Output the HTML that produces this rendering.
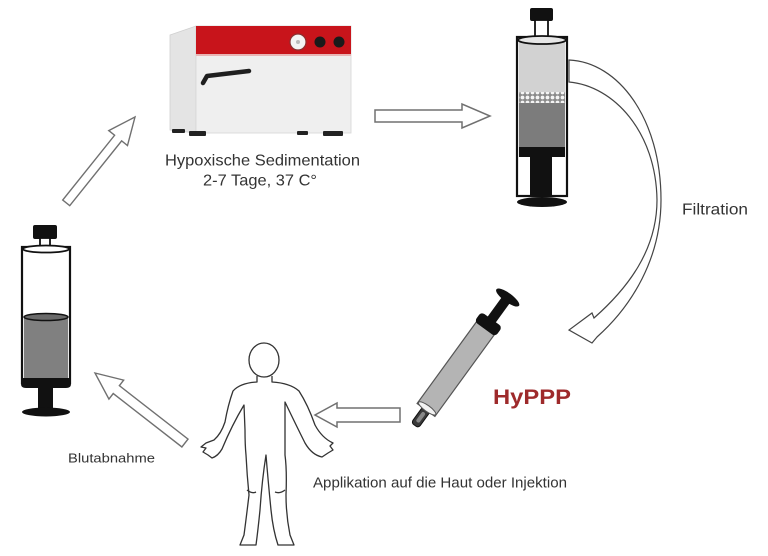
<!DOCTYPE html>
<html>
<head>
<meta charset="utf-8">
<style>
html,body{margin:0;padding:0;background:#fff;}
svg{display:block;}
text{font-family:"Liberation Sans",Arial,sans-serif;}
</style>
</head>
<body>
<svg width="768" height="556" viewBox="0 0 768 556" xmlns="http://www.w3.org/2000/svg">
<defs>
<pattern id="beads" x="0" y="0" width="5" height="5" patternUnits="userSpaceOnUse">
<rect width="5" height="5" fill="#8a8a8a"/>
<circle cx="2.5" cy="2.5" r="1.9" fill="#f4f4f4"/>
</pattern>
</defs>
<rect width="768" height="556" fill="#fff"/>

<!-- Incubator -->
<polygon points="170,35 196,26 196,133 170,130" fill="#e4e4e4" stroke="#cfcfcf" stroke-width="0.8"/>
<rect x="196" y="26" width="155" height="107" fill="#efefef" stroke="#d6d6d6" stroke-width="0.8"/>
<rect x="196" y="26" width="155" height="29" fill="#c8141b"/>
<rect x="196" y="54" width="155" height="2" fill="#e9b4b4"/>
<circle cx="298" cy="42" r="8" fill="#f4f4f4" stroke="#8a3030" stroke-width="1.2"/>
<circle cx="298" cy="42" r="2" fill="#bbb"/>
<circle cx="320" cy="42" r="5.5" fill="#1a1a1a"/>
<circle cx="339" cy="42" r="5.5" fill="#1a1a1a"/>
<path d="M203,83 L207,76 L249,71" fill="none" stroke="#1f1f1f" stroke-width="4.5" stroke-linecap="round" stroke-linejoin="round"/>
<rect x="172" y="129" width="13" height="4" rx="1" fill="#222"/>
<rect x="189" y="131" width="17" height="5" rx="1" fill="#222"/>
<rect x="297" y="131" width="11" height="4" rx="1" fill="#222"/>
<rect x="323" y="131" width="20" height="5" rx="1" fill="#222"/>

<text x="165" y="165.5" font-size="16" fill="#333" textLength="195" lengthAdjust="spacingAndGlyphs">Hypoxische Sedimentation</text>
<text x="203" y="185.5" font-size="16" fill="#333" textLength="114" lengthAdjust="spacingAndGlyphs">2-7 Tage, 37  C°</text>

<!-- Arrow incubator -> filter syringe -->
<polygon points="375,110 462,110 462,104 490,116 462,128 462,122 375,122" fill="#fff" stroke="#707070" stroke-width="1.5"/>

<!-- Top-right syringe -->
<rect x="530" y="8" width="23" height="13" rx="2" fill="#111"/>
<rect x="535" y="20" width="13" height="18" fill="#fff" stroke="#111" stroke-width="1.8"/>
<rect x="517" y="37" width="50" height="159" fill="#fff" stroke="#111" stroke-width="2.2"/>
<rect x="519" y="41" width="46" height="52" fill="#d2d2d2"/>
<ellipse cx="542" cy="40" rx="24" ry="4" fill="#e6e6e6" stroke="#111" stroke-width="1.8"/>
<rect x="519" y="92" width="46" height="11" fill="url(#beads)"/>
<rect x="519" y="103" width="46" height="45" fill="#7c7c7c"/>
<rect x="519" y="147" width="46" height="10" fill="#111"/>
<rect x="530" y="156" width="22" height="41" fill="#111"/>
<ellipse cx="542" cy="202" rx="25" ry="5" fill="#111"/>

<!-- Filtration curved arrow -->
<path d="M569,60 C618,62 661,118 661,200 C661,258 632,306 597,337 L592,343 L569,330 L592,313 L594,318 C628,288 657,250 657,200 C656,132 614,86 569,82 Z" fill="#fff" stroke="#444" stroke-width="1.2"/>
<text x="682" y="214.5" font-size="16" fill="#333" textLength="66" lengthAdjust="spacingAndGlyphs">Filtration</text>

<!-- Diagonal syringe -->
<g transform="translate(426,410) rotate(-54)">
<rect x="-19" y="-4.5" width="20" height="9" rx="3" fill="#3a3a3a" stroke="#111" stroke-width="1"/>
<rect x="-15" y="-2" width="12" height="4" rx="2" fill="#888"/>
<rect x="0" y="-11" width="104" height="22" fill="#b4b4b4" stroke="#555" stroke-width="1.2"/>
<ellipse cx="2" cy="0" rx="3" ry="10.5" fill="#f2f2f2" stroke="#555" stroke-width="1"/>
<rect x="100" y="-13" width="12" height="26" rx="4" fill="#111"/>
<rect x="111" y="-5" width="26" height="10" fill="#111"/>
<ellipse cx="139" cy="0" rx="4.5" ry="14" fill="#111"/>
</g>

<text x="493" y="404" font-size="21" font-weight="bold" fill="#9e2a2b" textLength="78" lengthAdjust="spacingAndGlyphs">HyPPP</text>

<!-- Arrow syringe -> human -->
<polygon points="400,408 337,408 337,403 315,415 337,427 337,422 400,422" fill="#fff" stroke="#707070" stroke-width="1.5"/>

<!-- Human figure -->
<g fill="#fff" stroke="#333" stroke-width="1.3" stroke-linejoin="round">
<path d="M257,376 L257,382 Q240,383 233,391 Q228,405 225,422 Q221,434 214,440 L206,443 L201,447 L206,448 L203,452 L208,455 L212,458 Q218,456 222,449 Q232,425 244,405 L245,430 Q245,445 246,455 Q247,475 249,495 Q246,520 244,535 L240,545 L256,545 Q258,530 260,510 Q262,480 266,455 Q268,480 271,510 Q273,530 278,545 L294,545 L290,535 Q286,515 286,495 Q287,470 285,455 L285,425 L285,402 Q296,425 305,443 Q312,455 322,457 L328,453 L333,450 L330,446 L333,443 Q322,438 315,425 Q308,405 299,391 Q290,383 272,382 L272,376"/>
<ellipse cx="264" cy="360" rx="15" ry="17"/>
<path d="M247,490 Q252,494 256,492 M275,492 Q280,494 285,490" fill="none"/>
</g>

<text x="313" y="487.5" font-size="15" fill="#333" textLength="254" lengthAdjust="spacingAndGlyphs">Applikation auf die Haut oder Injektion</text>

<!-- Left syringe -->
<rect x="33" y="225" width="24" height="14" rx="2" fill="#111"/>
<rect x="40" y="238" width="10" height="10" fill="#fff" stroke="#111" stroke-width="1.8"/>
<rect x="22" y="247" width="48" height="136" fill="#fff" stroke="#111" stroke-width="2.2"/>
<ellipse cx="46" cy="249" rx="23" ry="3.5" fill="#fff" stroke="#111" stroke-width="1.8"/>
<rect x="24" y="316" width="44" height="64" fill="#808080"/>
<ellipse cx="46" cy="317" rx="22" ry="3.5" fill="#6a6a6a" stroke="#111" stroke-width="1.5"/>
<path d="M21,378 L71,378 L71,384 Q71,388 66,388 L26,388 Q21,388 21,384 Z" fill="#111"/>
<rect x="38" y="387" width="15" height="23" fill="#111"/>
<ellipse cx="46" cy="412" rx="24" ry="4.5" fill="#111"/>

<!-- Arrow left syringe -> incubator -->
<g transform="translate(135,117) rotate(128.7)">
<polygon points="0,0 27,-12 27,-4.5 110,-4.5 110,4.5 27,4.5 27,12" fill="#fff" stroke="#707070" stroke-width="1.4"/>
</g>

<!-- Blutabnahme arrow -->
<g transform="translate(95,373) rotate(37.9)">
<polygon points="0,0 27,-12 27,-5 114,-5 114,5 27,5 27,12" fill="#fff" stroke="#707070" stroke-width="1.4"/>
</g>
<text x="68" y="462.5" font-size="13" fill="#333" textLength="87" lengthAdjust="spacingAndGlyphs">Blutabnahme</text>
</svg>
</body>
</html>
